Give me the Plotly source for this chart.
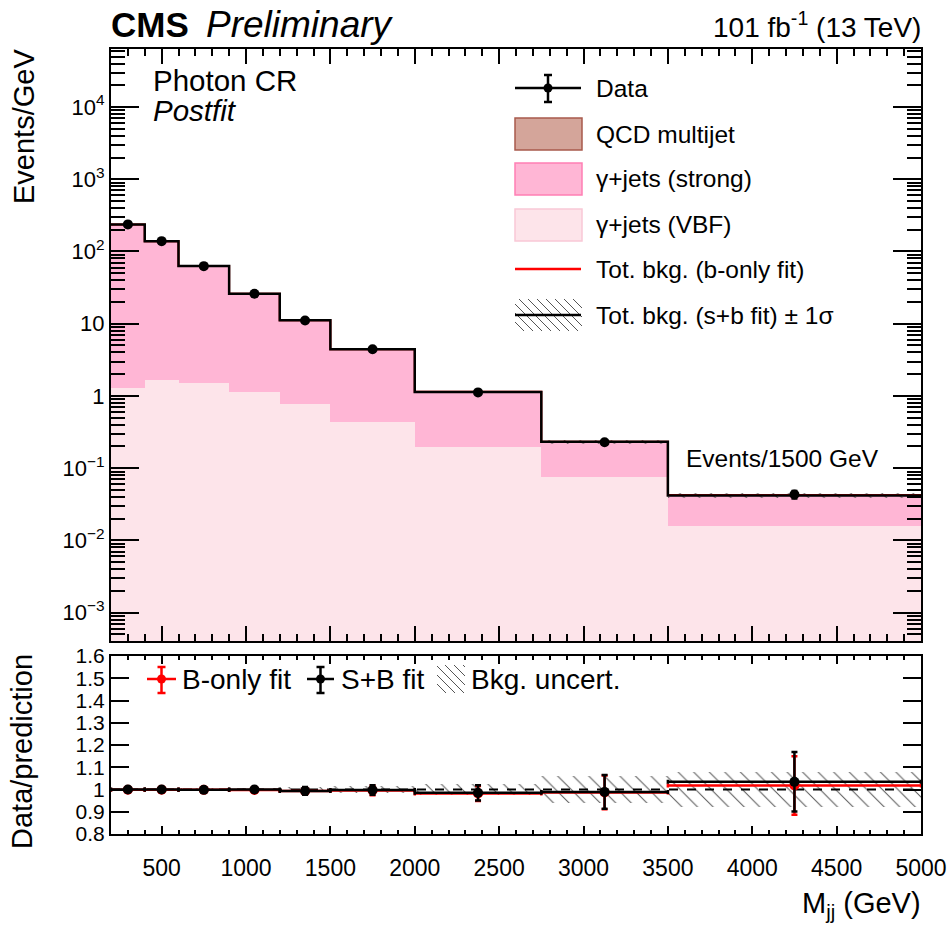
import numpy as np
import plotly.graph_objects as go

# ---------------------------------------------------------------- data
edges = [200, 400, 600, 900, 1200, 1500, 2000, 2750, 3500, 5000]
data = [237, 139, 62.7, 26.0, 11.1, 4.43, 1.12, 0.229, 0.0433]
data_err = [1.0, 0.85, 0.46, 0.29, 0.19, 0.094, 0.039, 0.0175, 0.0056]
vbf = [1.30, 1.66, 1.50, 1.13, 0.77, 0.44, 0.194, 0.075, 0.0161]
strong = [234.8, 136.8, 61.1, 24.79, 10.37, 3.99, 0.941, 0.1561, 0.0257]
qcd = [0.9, 0.5, 0.2, 0.08, 0.03, 0.01, 0.002, 0.0004, 0.00006]
bonly_total = [237.2, 139.1, 62.8, 26.05, 11.18, 4.45, 1.1405, 0.232, 0.04254]
bkg_unc = [0.003, 0.004, 0.005, 0.006, 0.012, 0.015, 0.025, 0.06, 0.078]

x_tick_vals = [500, 1000, 1500, 2000, 2500, 3000, 3500, 4000, 4500, 5000]
y_tick_vals = [1e-3, 1e-2, 1e-1, 1, 10, 1e2, 1e3, 1e4]
y_tick_text = ["10<sup>\u22123</sup>", "10<sup>\u22122</sup>", "10<sup>\u22121</sup>", "1", "10",
               "10<sup>2</sup>", "10<sup>3</sup>", "10<sup>4</sup>"]
r_tick_vals = [0.8, 0.9, 1.0, 1.1, 1.2, 1.3, 1.4, 1.5, 1.6]
r_tick_text = ["0.8", "0.9", "1", "1.1", "1.2", "1.3", "1.4", "1.5", "1.6"]

# ---------------------------------------------------------------- derived
edges_a = np.array(edges, float)
centers = 0.5 * (edges_a[1:] + edges_a[:-1])
widths = edges_a[1:] - edges_a[:-1]
vbf_a, strong_a, qcd_a = map(np.array, (vbf, strong, qcd))
data_a, derr_a = np.array(data), np.array(data_err)
total = vbf_a + strong_a + qcd_a
bonly = np.array(bonly_total)
unc = np.array(bkg_unc)
ratio_sb = data_a / total
ratio_b = data_a / bonly

FONT = "Liberation Sans, Arial, Helvetica, sans-serif"
C_QCD, C_QCD_L = "#d4a59a", "#a85a4c"
C_STR, C_STR_L = "#ffb6d5", "#ff7fb4"
C_VBF, C_VBF_L = "#fde4ea", "#f9c8d6"

W, H = 947, 932
ML, MR, MT, MB = 111, 26, 49, 98
PW, PH = W - ML - MR, H - MT - MB


def px(x):
    return (x - ML) / PW


def py(y):
    return (H - MB - y) / PH


TOP_DOM = [py(641), 1.0]
BOT_DOM = [0.0, py(656)]

fig = go.Figure()

# stacked backgrounds drawn as overlaid cumulative bars
for vals, col in ((total, C_QCD), (vbf_a + strong_a, C_STR), (vbf_a, C_VBF)):
    fig.add_trace(go.Bar(x=centers, y=vals, width=widths, marker=dict(color=col, line=dict(width=0)),
                         xaxis="x", yaxis="y", hoverinfo="skip"))

hatch = dict(shape="\\", fgcolor="#555555", size=11, solidity=0.09, fillmode="replace")
fig.add_trace(go.Bar(x=centers, y=2 * unc * total, base=total * (1 - unc), width=widths,
                     marker=dict(color="rgba(0,0,0,0)", line=dict(width=0), pattern=hatch),
                     xaxis="x", yaxis="y", hoverinfo="skip"))

step_x = list(edges)
fig.add_trace(go.Scatter(x=step_x, y=list(bonly) + [bonly[-1]], mode="lines", line_shape="hv",
                         line=dict(color="red", width=2), xaxis="x", yaxis="y"))
fig.add_trace(go.Scatter(x=step_x, y=list(total) + [total[-1]], mode="lines", line_shape="hv",
                         line=dict(color="black", width=2.5), xaxis="x", yaxis="y"))
fig.add_trace(go.Scatter(x=centers, y=data_a, mode="markers",
                         marker=dict(color="black", size=10),
                         error_y=dict(type="data", array=derr_a, color="black", thickness=2, width=3),
                         xaxis="x", yaxis="y"))

# ratio panel
fig.add_trace(go.Bar(x=centers, y=2 * unc, base=1 - unc, width=widths,
                     marker=dict(color="rgba(0,0,0,0)", line=dict(width=0), pattern=hatch),
                     xaxis="x2", yaxis="y2", hoverinfo="skip"))
fig.add_trace(go.Scatter(x=[edges[0], edges[-1]], y=[1, 1], mode="lines",
                         line=dict(color="black", width=2, dash="dash"), xaxis="x2", yaxis="y2"))
for r, den, col in ((ratio_b, bonly, "red"), (ratio_sb, total, "black")):
    fig.add_trace(go.Scatter(x=centers, y=r, mode="markers", marker=dict(color=col, size=10),
                             error_x=dict(type="data", array=widths / 2, color=col, thickness=2.5, width=2),
                             error_y=dict(type="data", array=derr_a / den, color=col, thickness=2.5, width=3),
                             xaxis="x2", yaxis="y2"))

# ---------------------------------------------------------------- axes
ax_common = dict(showline=True, linecolor="black", linewidth=2, mirror="allticks", ticks="inside",
                 tickcolor="black", tickwidth=1.5, showgrid=False, zeroline=False, automargin=False)
fig.update_layout(
    template="none",
    xaxis=dict(**ax_common, domain=[0, 1], anchor="y", range=[edges[0], edges[-1]], matches="x2",
               tickvals=x_tick_vals, ticklen=15, showticklabels=False,
               minor=dict(ticks="inside", dtick=100, tick0=0, ticklen=7, tickcolor="black", tickwidth=1.5,
                          showgrid=False)),
    yaxis=dict(**ax_common, domain=TOP_DOM, anchor="x", type="log", range=[-3.392, 4.803],
               tickvals=y_tick_vals, ticktext=y_tick_text, ticklen=28,
               tickfont=dict(family=FONT, size=22, color="black"),
               minor=dict(ticks="inside", dtick="D1", ticklen=14, tickcolor="black", tickwidth=1.5,
                          showgrid=False)),
    xaxis2=dict(**ax_common, domain=[0, 1], anchor="y2", range=[edges[0], edges[-1]],
                tickvals=x_tick_vals, ticktext=[str(v) for v in x_tick_vals], ticklen=8,
                tickfont=dict(family=FONT, size=23, color="black"), ticklabelstandoff=12,
                minor=dict(ticks="inside", dtick=100, tick0=0, ticklen=4, tickcolor="black", tickwidth=1.5,
                           showgrid=False)),
    yaxis2=dict(**ax_common, domain=BOT_DOM, anchor="x2", range=[0.8, 1.6],
                tickvals=r_tick_vals, ticktext=r_tick_text, ticklen=18,
                tickfont=dict(family=FONT, size=21, color="black")),
    barmode="overlay", bargap=0, showlegend=False,
    width=W, height=H, margin=dict(l=ML, r=MR, t=MT, b=MB, autoexpand=False),
    paper_bgcolor="white", plot_bgcolor="white",
    font=dict(family=FONT, color="black"),
)

# ---------------------------------------------------------------- text
ann = []


def text(x, y, s, size, xanchor="left", yanchor="middle", angle=0):
    ann.append(dict(x=px(x), y=py(y), xref="paper", yref="paper", text=s, showarrow=False,
                    xanchor=xanchor, yanchor=yanchor, textangle=angle,
                    font=dict(family=FONT, size=size, color="black")))


text(109, 24, "<b>CMS</b>", 35)
text(204, 24, "<i>Preliminary</i>", 37)
text(923, 25, "101 fb<sup>-1</sup> (13 TeV)", 28, xanchor="right")
text(151, 80, "Photon CR", 29.5)
text(151, 111, "<i>Postfit</i>", 29.5)
text(684, 458, "Events/1500 GeV", 24.5)
text(24, 127, "Events/GeV", 29, xanchor="center", angle=-90)
text(22, 752, "Data/prediction", 29, xanchor="center", angle=-90)
text(923, 905, "M<sub>jj</sub> (GeV)", 29, xanchor="right")

leg_rows = [88, 134, 179, 225, 269, 315]
leg_labels = ["Data", "QCD multijet", "\u03b3+jets (strong)", "\u03b3+jets (VBF)",
              "Tot. bkg. (b-only fit)", "Tot. bkg. (s+b fit) \u00b1 1\u03c3"]
for yy, lab in zip(leg_rows, leg_labels):
    text(594, yy, lab, 24.5)
text(180, 679, "B-only fit", 28)
text(339, 679, "S+B fit", 28)
text(469, 679, "Bkg. uncert.", 28)

# ---------------------------------------------------------------- legend glyphs
shapes = []


def seg(x0, y0, x1, y1, color="black", w=2.5):
    shapes.append(dict(type="line", xref="paper", yref="paper", x0=px(x0), y0=py(y0), x1=px(x1), y1=py(y1),
                       line=dict(color=color, width=w)))


def box(x0, y0, x1, y1, fill, edge):
    shapes.append(dict(type="rect", xref="paper", yref="paper", x0=px(x0), y0=py(y0), x1=px(x1), y1=py(y1),
                       fillcolor=fill, line=dict(color=edge, width=1.5)))


def dot(x, y, r, color):
    shapes.append(dict(type="circle", xref="paper", yref="paper", x0=px(x - r), y0=py(y - r),
                       x1=px(x + r), y1=py(y + r), fillcolor=color, line=dict(color=color, width=0)))


def hatch_box(x0, y0, x1, y1, step=9):
    d = -(y1 - y0)
    while d < (x1 - x0):
        t0 = max(0, -d)
        t1 = min(y1 - y0, (x1 - x0) - d)
        if t1 > t0:
            seg(x0 + d + t0, y0 + t0, x0 + d + t1, y0 + t1, "#555555", 1)
        d += step


def marker_glyph(xa, xb, y, yt, yb, color):
    xc = 0.5 * (xa + xb)
    seg(xa, y, xb, y, color)
    seg(xc, yt, xc, yb, color)
    seg(xc - 4, yt, xc + 4, yt, color)
    seg(xc - 4, yb, xc + 4, yb, color)
    dot(xc, y, 4.5, color)


marker_glyph(515, 581, 88, 75, 102, "black")
box(515, 118, 582, 150, C_QCD, C_QCD_L)
box(515, 163, 582, 195, C_STR, C_STR_L)
box(515, 209, 582, 241, C_VBF, C_VBF_L)
seg(515, 269, 581, 269, "red", 2.5)
hatch_box(515, 299, 582, 331)
seg(515, 315, 581, 315, "black", 2.5)

marker_glyph(147, 176, 679, 667, 693, "red")
marker_glyph(307, 334, 679, 667, 693, "black")
hatch_box(437, 665, 465, 693)

fig.update_layout(annotations=ann, shapes=shapes)
fig.write_html("out.html")
